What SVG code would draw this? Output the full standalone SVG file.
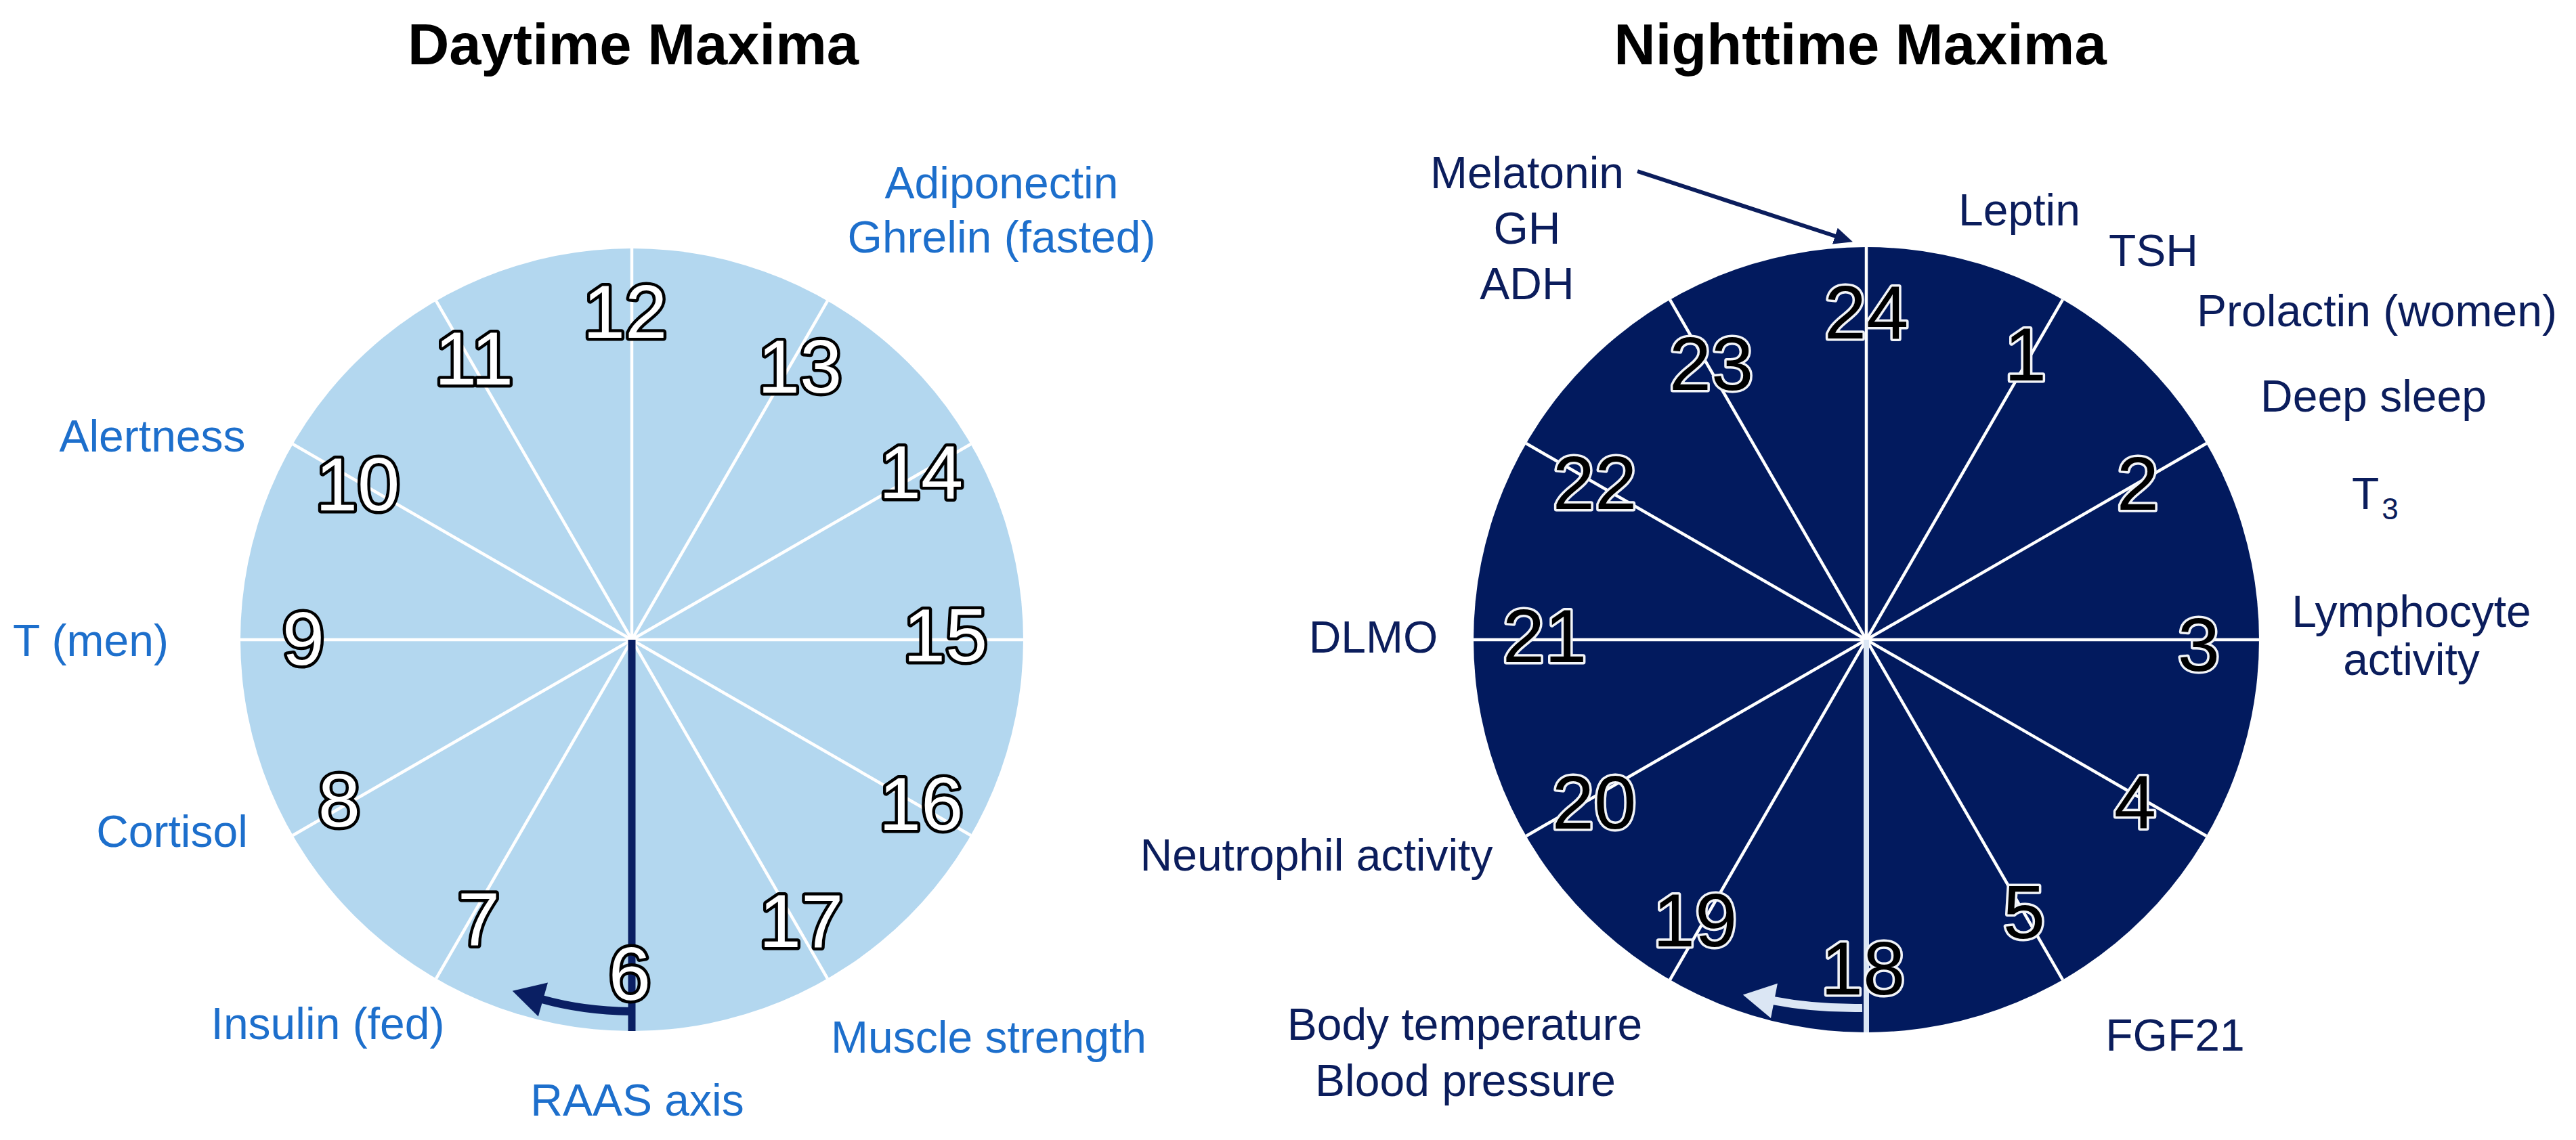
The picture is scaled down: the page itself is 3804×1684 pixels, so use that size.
<svg xmlns="http://www.w3.org/2000/svg" width="3804" height="1684" viewBox="0 0 3804 1684">
<style>
.title{font-family:"Liberation Sans",Arial,sans-serif;font-weight:700;font-size:85px;fill:#000;text-anchor:middle}
.lblD{font-family:"Liberation Sans",Arial,sans-serif;font-size:66px;fill:#1d6fcc;text-anchor:middle}
.lblN{font-family:"Liberation Sans",Arial,sans-serif;font-size:66px;fill:#0b1d5c;text-anchor:middle}
.numD{font-family:"Liberation Sans",Arial,sans-serif;font-size:112px;fill:#fff;stroke:#000;stroke-width:9;paint-order:stroke;stroke-linejoin:round;text-anchor:middle}
.numN{font-family:"Liberation Sans",Arial,sans-serif;font-size:112px;fill:#000;stroke:#f2f4f8;stroke-width:7;paint-order:stroke;stroke-linejoin:round;text-anchor:middle}
.spoke{stroke:#fff;stroke-width:4.5;fill:none}
</style>
<defs>
<marker id="headNavy" markerUnits="userSpaceOnUse" markerWidth="60" markerHeight="60" viewBox="0 -30 50 60" refX="2" refY="0" orient="auto">
<path d="M0,-26 L47,0 L0,26 Z" fill="#0a1f63"/>
</marker>
<marker id="headLight" markerUnits="userSpaceOnUse" markerWidth="60" markerHeight="60" viewBox="0 -30 50 60" refX="2" refY="0" orient="auto">
<path d="M0,-26 L47,0 L0,26 Z" fill="#dbe6f4"/>
</marker>
<marker id="headSmall" markerUnits="userSpaceOnUse" markerWidth="30" markerHeight="30" viewBox="0 -12 24 24" refX="1" refY="0" orient="auto">
<path d="M0,-10 L22,0 L0,10 Z" fill="#0b1d5c"/>
</marker>
</defs>

<text class="title" x="935" y="95">Daytime Maxima</text>
<text class="title" x="2747" y="95">Nighttime Maxima</text>

<g id="day-clock">
<circle cx="933" cy="945" r="578" fill="#b3d7ef"/>
<line class="spoke" x1="933" y1="367" x2="933" y2="1523"/>
<line class="spoke" x1="355" y1="945" x2="1511" y2="945"/>
<line class="spoke" x1="1222" y1="444.4" x2="644" y2="1445.6"/>
<line class="spoke" x1="1433.6" y1="656" x2="432.4" y2="1234"/>
<line class="spoke" x1="1433.6" y1="1234" x2="432.4" y2="656"/>
<line class="spoke" x1="1222" y1="1445.6" x2="644" y2="444.4"/>
<line x1="933" y1="945" x2="933" y2="1523" stroke="#0a1f63" stroke-width="11"/>
<text class="numD" x="923" y="499">12</text>
<text class="numD" x="700" y="568">11</text>
<text class="numD" x="1181" y="580">13</text>
<text class="numD" x="528" y="754">10</text>
<text class="numD" x="1360" y="736">14</text>
<text class="numD" x="448" y="982">9</text>
<text class="numD" x="1396" y="977">15</text>
<text class="numD" x="501" y="1221">8</text>
<text class="numD" x="1360" y="1226">16</text>
<text class="numD" x="707" y="1396">7</text>
<text class="numD" x="1183" y="1399">17</text>
<text class="numD" x="930" y="1477">6</text>
</g>

<g id="night-clock">
<circle cx="2756" cy="945" r="580" fill="#021a5e"/>
<line class="spoke" x1="2756" y1="365" x2="2756" y2="945"/>
<line class="spoke" x1="2176" y1="945" x2="3336" y2="945"/>
<line class="spoke" x1="3046" y1="442.7" x2="2466" y2="1447.3"/>
<line class="spoke" x1="3258.3" y1="655" x2="2253.7" y2="1235"/>
<line class="spoke" x1="3258.3" y1="1235" x2="2253.7" y2="655"/>
<line class="spoke" x1="3046" y1="1447.3" x2="2466" y2="442.7"/>
<line x1="2756" y1="945" x2="2756" y2="1525" stroke="#dbe6f4" stroke-width="8"/>
<text class="numN" x="2756" y="500">24</text>
<text class="numN" x="2527" y="576">23</text>
<text class="numN" x="2991" y="562">1</text>
<text class="numN" x="2355" y="752">22</text>
<text class="numN" x="3157" y="753">2</text>
<text class="numN" x="2281" y="978">21</text>
<text class="numN" x="3247" y="991">3</text>
<text class="numN" x="2354" y="1224">20</text>
<text class="numN" x="3153" y="1223">4</text>
<text class="numN" x="2503" y="1398">19</text>
<text class="numN" x="2989" y="1386">5</text>
<text class="numN" x="2751" y="1469">18</text>
</g>

<g id="connectors">
<path d="M931 1494 Q860 1493 800 1476" fill="none" stroke="#0a1f63" stroke-width="12" marker-end="url(#headNavy)"/>
<path d="M2750 1489 Q2680 1490 2618 1478" fill="none" stroke="#dbe6f4" stroke-width="12" marker-end="url(#headLight)"/>
<path d="M2418 253 L2711 349" fill="none" stroke="#0b1d5c" stroke-width="6" marker-end="url(#headSmall)"/>
</g>

<g id="day-labels">
<g id="lbl-adiponectin"><text class="lblD" x="1479" y="293">Adiponectin</text><text class="lblD" x="1479" y="373">Ghrelin (fasted)</text></g>
<g id="lbl-alertness"><text class="lblD" x="225" y="667">Alertness</text></g>
<g id="lbl-tmen"><text class="lblD" x="134" y="969">T (men)</text></g>
<g id="lbl-cortisol"><text class="lblD" x="254" y="1251">Cortisol</text></g>
<g id="lbl-insulin"><text class="lblD" x="484" y="1535">Insulin (fed)</text></g>
<g id="lbl-muscle"><text class="lblD" x="1460" y="1555">Muscle strength</text></g>
<g id="lbl-raas"><text class="lblD" x="941" y="1648">RAAS axis</text></g>
</g>

<g id="night-labels">
<g id="lbl-melatonin"><text class="lblN" x="2255" y="278">Melatonin</text><text class="lblN" x="2255" y="360">GH</text><text class="lblN" x="2255" y="442">ADH</text></g>
<g id="lbl-leptin"><text class="lblN" x="2982" y="333">Leptin</text></g>
<g id="lbl-tsh"><text class="lblN" x="3180" y="393">TSH</text></g>
<g id="lbl-prolactin"><text class="lblN" x="3510" y="482">Prolactin (women)</text></g>
<g id="lbl-deepsleep"><text class="lblN" x="3505" y="608">Deep sleep</text></g>
<g id="lbl-t3"><text class="lblN" x="3473" y="752" style="text-anchor:start">T<tspan font-size="44" dx="4" dy="15">3</tspan></text></g>
<g id="lbl-lymphocyte"><text class="lblN" x="3561" y="926">Lymphocyte</text><text class="lblN" x="3561" y="997">activity</text></g>
<g id="lbl-dlmo"><text class="lblN" x="2028" y="964">DLMO</text></g>
<g id="lbl-neutrophil"><text class="lblN" x="1944" y="1286">Neutrophil activity</text></g>
<g id="lbl-bodytemp"><text class="lblN" x="2163" y="1536">Body temperature</text><text class="lblN" x="2164" y="1619">Blood pressure</text></g>
<g id="lbl-fgf21"><text class="lblN" x="3212" y="1552">FGF21</text></g>
</g>
</svg>
